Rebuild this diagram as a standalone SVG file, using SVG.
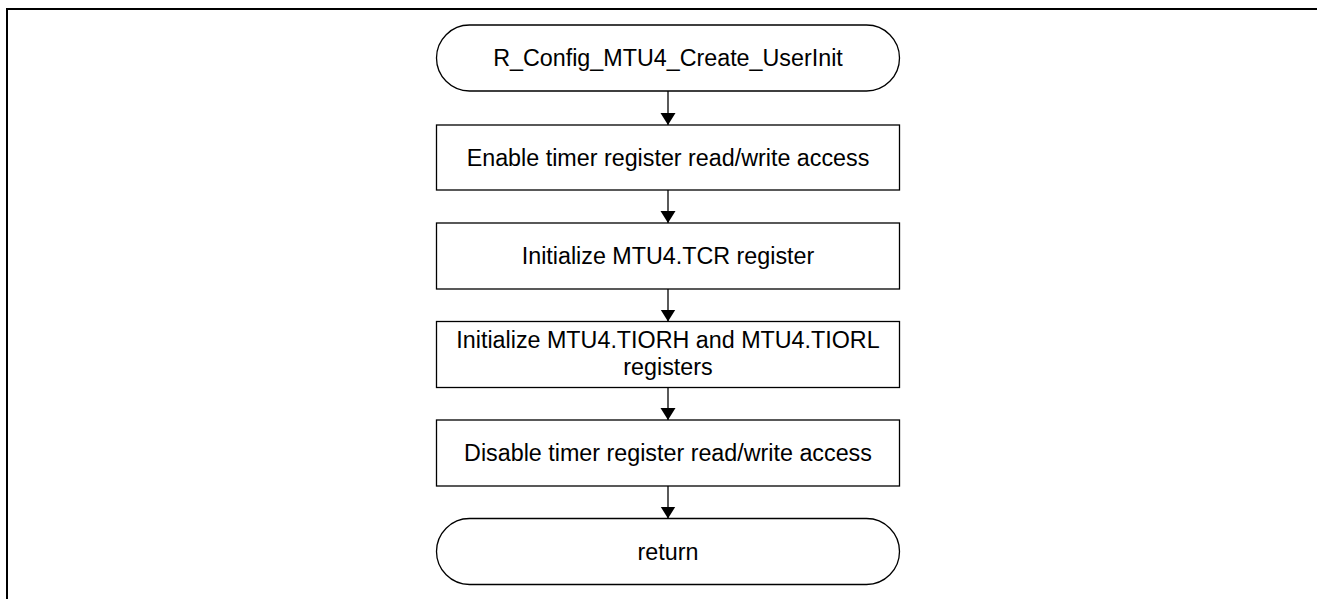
<svg xmlns="http://www.w3.org/2000/svg" width="1317" height="599" viewBox="0 0 1317 599">
<style>
.box{fill:#fff;stroke:#000;stroke-width:1.3}
.t{font-family:"Liberation Sans",Arial,sans-serif;font-size:23.3px;fill:#000;text-anchor:middle}
.c{stroke:#000;stroke-width:1.3;fill:none}
</style>
<defs>
<marker id="ah" markerUnits="userSpaceOnUse" markerWidth="13" markerHeight="16" refX="12" refY="7.5" orient="auto">
<path d="M0,0 L12,7.5 L0,15 z" fill="#000"/>
</marker>
</defs>
<rect x="0" y="0" width="1317" height="599" fill="#fff"/>
<g id="frame">
<path d="M7,599 L7,9 L1317,9" fill="none" stroke="#000" stroke-width="2"/>
</g>
<g id="connectors">
<line class="c" x1="668" y1="91" x2="668" y2="125" marker-end="url(#ah)"/>
<line class="c" x1="668" y1="190" x2="668" y2="223" marker-end="url(#ah)"/>
<line class="c" x1="668" y1="289" x2="668" y2="321.5" marker-end="url(#ah)"/>
<line class="c" x1="668" y1="387.5" x2="668" y2="420" marker-end="url(#ah)"/>
<line class="c" x1="668" y1="486" x2="668" y2="518.5" marker-end="url(#ah)"/>
</g>
<g id="start">
<rect class="box" x="436.5" y="25" width="463" height="66" rx="33" ry="33"/>
<text class="t" x="668" y="66">R_Config_MTU4_Create_UserInit</text>
</g>
<g id="enable">
<rect class="box" x="436.5" y="125" width="463" height="65"/>
<text class="t" x="668" y="166">Enable timer register read/write access</text>
</g>
<g id="tcr">
<rect class="box" x="436.5" y="223" width="463" height="66"/>
<text class="t" x="668" y="264">Initialize MTU4.TCR register</text>
</g>
<g id="tior">
<rect class="box" x="436.5" y="321.5" width="463" height="66"/>
<text class="t" x="668" y="348">Initialize MTU4.TIORH and MTU4.TIORL</text>
<text class="t" x="668" y="375">registers</text>
</g>
<g id="disable">
<rect class="box" x="436.5" y="420" width="463" height="66"/>
<text class="t" x="668" y="460.5">Disable timer register read/write access</text>
</g>
<g id="return">
<rect class="box" x="436.5" y="518.5" width="463" height="66" rx="33" ry="33"/>
<text class="t" x="668" y="559.5">return</text>
</g>
</svg>
